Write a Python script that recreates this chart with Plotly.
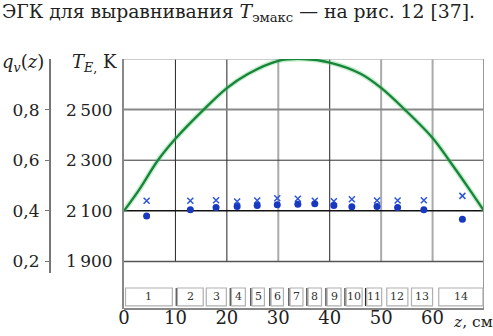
import plotly.graph_objects as go

# ---- data ----
curve_z = [0, 3, 6.6, 10, 15.5, 20, 24, 30, 35, 40, 46, 50, 54.6, 60, 63.2, 67, 70]
curve_T = [2100, 2185, 2300, 2385, 2500, 2585, 2640, 2693, 2700, 2686, 2642, 2586, 2500, 2388, 2300, 2190, 2100]

marker_z = [4.4, 12.9, 17.9, 22.0, 25.9, 29.8, 33.8, 37.1, 40.8, 44.3, 49.2, 53.2, 58.3, 65.8]
cross_T = [2140, 2140, 2142, 2137, 2141, 2150, 2148, 2140, 2138, 2146, 2141, 2141, 2142, 2159]
dot_T = [2080, 2104, 2113, 2117, 2121, 2124, 2126, 2128, 2121, 2116, 2117, 2113, 2104, 2067]

box_lo = [0.3, 10.4, 16.0, 20.9, 24.9, 28.6, 32.3, 35.8, 39.5, 43.2, 47.2, 51.1, 55.9, 61.2]
box_hi = [9.4, 15.4, 19.9, 23.6, 27.3, 31.0, 34.8, 38.4, 42.2, 46.3, 50.1, 55.2, 60.0, 69.8]
box_labels = [str(i) for i in range(1, 15)]
box_dark_left = [False, True, False, True, True, True, True, True, True, True, True, False, False, False]

x_ticks = [0, 10, 20, 30, 40, 50, 60]
T_ticks = [1900, 2100, 2300, 2500]
T_ticktext = ["1\u2009900", "2\u2009100", "2\u2009300", "2\u2009500"]
q_ticks = [0.2, 0.4, 0.6, 0.8]
q_ticktext = ["0,2", "0,4", "0,6", "0,8"]

vgrid_z = [10, 20, 30, 40, 50, 60]
vgrid_col = ["#222", "#222", "#aaa", "#222", "#aaa", "#aaa"]
vgrid_w = [1, 1, 2, 1, 2, 2]
hgrid_T = [1900, 2100, 2300, 2500, 2700]
hgrid_col = ["#555", "#111", "#333", "#888", "#bbb"]
hgrid_w = [1.5, 1.5, 1, 2, 1.5]

T_range = [1712, 2700]
z_range = [0, 70]
# q_v axis shares the plot height: q = 0.4 + (T - 2100) / 1000
q_range = [0.012, 1.0]

FONT = "DejaVu Serif"

W, H = 493, 336
ml, mr, mt, mb = 0, 9, 59, 27
pw = W - ml - mr
ph = H - mt - mb


def px_x(x):
    return (x - ml) / pw


def px_y(y):
    return (H - mb - y) / ph


fig = go.Figure()

# grid lines (shapes in data coordinates)
for z, c, w in zip(vgrid_z, vgrid_col, vgrid_w):
    fig.add_shape(type="line", xref="x", yref="y", x0=z, x1=z, y0=hgrid_T[0], y1=T_range[1],
                  line=dict(color=c, width=w), layer="below")
for t, c, w in zip(hgrid_T, hgrid_col, hgrid_w):
    fig.add_shape(type="line", xref="x", yref="y", x0=z_range[0], x1=z_range[1], y0=t, y1=t,
                  line=dict(color=c, width=w), layer="below")
# right and bottom borders
fig.add_shape(type="line", xref="x", yref="paper", x0=z_range[1], x1=z_range[1], y0=0, y1=1,
              line=dict(color="#999", width=2))
fig.add_shape(type="line", xref="x", yref="paper", x0=z_range[0], x1=z_range[1], y0=0, y1=0,
              line=dict(color="#888", width=2))

# segment boxes
box_y0, box_y1 = 1724, 1795
for lo, hi, lab, dark in zip(box_lo, box_hi, box_labels, box_dark_left):
    fig.add_shape(type="rect", xref="x", yref="y", x0=lo, x1=hi, y0=box_y0, y1=box_y1,
                  line=dict(color="#b0b0b0", width=1.2), fillcolor="white")
    if dark:
        fig.add_shape(type="line", xref="x", yref="y", x0=lo - 0.25, x1=lo - 0.25, y0=box_y0, y1=box_y1,
                      line=dict(color="#222", width=1))
    fig.add_annotation(x=(lo + hi) / 2, y=(box_y0 + box_y1) / 2, xref="x", yref="y",
                       text=lab, showarrow=False, font=dict(family=FONT, size=11, color="#333"))

# hide the q axis line below ~y=272 (the reference stops it there)
fig.add_shape(type="rect", xref="paper", yref="paper", x0=px_x(44), x1=px_x(56), y0=px_y(336), y1=px_y(273),
              line=dict(width=0), fillcolor="white", layer="above")

# green curve (halo + line)
fig.add_trace(go.Scatter(x=curve_z, y=curve_T, mode="lines",
                         line=dict(color="rgba(90,200,110,0.35)", width=5, shape="spline"),
                         showlegend=False, hoverinfo="skip"))
fig.add_trace(go.Scatter(x=curve_z, y=curve_T, mode="lines", line=dict(color="#16853a", width=2.3, shape="spline"),
                         showlegend=False))
# markers
fig.add_trace(go.Scatter(x=marker_z, y=cross_T, mode="markers",
                         marker=dict(symbol="x-thin", size=6, line=dict(width=1.5, color="#2f55d8")),
                         showlegend=False))
fig.add_trace(go.Scatter(x=marker_z, y=dot_T, mode="markers",
                         marker=dict(symbol="circle", size=7, color="#1838c0"),
                         showlegend=False))

fig.update_layout(
    width=W, height=H,
    margin=dict(l=ml, r=mr, t=mt, b=mb, pad=0, autoexpand=False),
    paper_bgcolor="white", plot_bgcolor="white",
    font=dict(family=FONT, size=17, color="#222"),
    xaxis=dict(domain=[124 / pw, 1], range=z_range, tickvals=x_ticks, ticks="", showgrid=False, zeroline=False,
               showline=False, anchor="free", position=px_y(305), tickfont=dict(size=18), ticklabelstandoff=0,
               automargin=False),
    yaxis=dict(domain=[0, 1], range=T_range, tickvals=T_ticks, ticktext=T_ticktext, ticks="", showgrid=False,
               zeroline=False, showline=True, linecolor="#888", linewidth=2, ticklabelstandoff=6,
               automargin=False),
    yaxis2=dict(overlaying="y", anchor="free", position=50 / pw, range=q_range,
                tickvals=q_ticks, ticktext=q_ticktext, ticks="outside", ticklen=4, tickcolor="#777",
                showgrid=False, zeroline=False, showline=True, linecolor="#777", linewidth=2, side="left",
                ticklabelstandoff=2, automargin=False),
)

# trace on the q axis so that it is drawn (no visible points)
fig.add_trace(go.Scatter(x=[None], y=[None], yaxis="y2", showlegend=False, hoverinfo="skip"))

# header text
fig.add_annotation(xref="paper", yref="paper", x=px_x(0), y=px_y(13), xanchor="left", yanchor="middle",
                   text="ЭГК для выравнивания <i>T</i><sub>эмакс</sub> — на рис. 12 [37].", showarrow=False,
                   font=dict(family=FONT, size=18.8, color="#222"))
# axis titles
fig.add_annotation(xref="paper", yref="paper", x=px_x(46), y=px_y(63), xanchor="right", yanchor="middle",
                   text="<i>q</i><sub><i>v</i></sub>(<i>z</i>)", showarrow=False,
                   font=dict(family=FONT, size=18, color="#222"))
fig.add_annotation(xref="paper", yref="paper", x=px_x(119), y=px_y(63), xanchor="right", yanchor="middle",
                   text="<i>T</i><sub><i>E</i>,</sub> K", showarrow=False, font=dict(family=FONT, size=18, color="#222"))
fig.add_annotation(xref="paper", yref="paper", x=px_x(451), y=px_y(322), xanchor="left", yanchor="middle",
                   text="<i>z</i>, см", showarrow=False, font=dict(family=FONT, size=15.5, color="#222"))

fig.write_html("out.html", config={"displayModeBar": False},
               post_script="document.body.style.margin='0px';")
